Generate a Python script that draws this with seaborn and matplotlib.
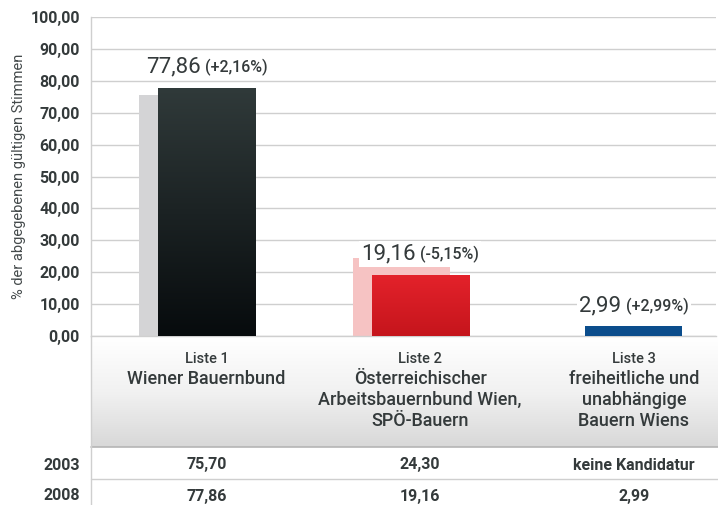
import numpy as np
import pandas as pd
import matplotlib
matplotlib.use('Agg')
import matplotlib.pyplot as plt
import matplotlib.transforms as mtransforms
from matplotlib.colors import LinearSegmentedColormap
from matplotlib.offsetbox import TextArea, HPacker, AnnotationBbox
import seaborn as sns

# Daten
listen = ['Liste 1', 'Liste 2', 'Liste 3']
parteien = ['Wiener Bauernbund',
            'Österreichischer\nArbeitsbauernbund Wien,\nSPÖ-Bauern',
            'freiheitliche und\nunabhängige\nBauern Wiens']
werte_2003 = [75.70, 24.30, np.nan]
werte_2008 = [77.86, 19.16, 2.99]
veraenderung = ['(+2,16%)', '(-5,15%)', '(+2,99%)']
jahre = ['2003', '2008']
tabelle_2003 = ['75,70', '24,30', 'keine Kandidatur']
tabelle_2008 = ['77,86', '19,16', '2,99']
yticks = list(range(0, 101, 10))

farben_2003 = ['#d4d4d6', '#f6c3c3', '#ffffff']
farben_2008 = ['#1c2325', '#d91a22', '#0b4d8c']
verlauf_2008 = [('#303a3a', '#070b0d'), ('#e4222b', '#c5151c'), None]

sns.set_style('white')
plt.rcParams['font.family'] = ['Roboto', 'DejaVu Sans']
txt = '#343a3b'
grid = '#cfcfcf'

W, H = 718, 505
fig = plt.figure(figsize=(W / 100, H / 100), dpi=100)
ax = fig.add_axes([91 / W, 1 - 336 / H, 625 / W, 319 / H])

df = pd.DataFrame({'liste': listen, 'w2003': werte_2003, 'w2008': werte_2008})
breite = 0.454
versatz = 0.087

sns.barplot(data=df, x='liste', y='w2003', hue='liste', order=listen, hue_order=listen,
            palette=dict(zip(listen, farben_2003)), width=breite, saturation=1,
            legend=False, ax=ax, zorder=2)
n_alt = len(ax.patches)
for p in ax.patches:
    p.set_x(p.get_x() - versatz)
    p.set_linewidth(0)

sns.barplot(data=df, x='liste', y='w2008', hue='liste', order=listen, hue_order=listen,
            palette=dict(zip(listen, farben_2008)), width=breite, saturation=1,
            legend=False, ax=ax, zorder=3)
neu = ax.patches[n_alt:]
for p in neu:
    p.set_linewidth(0)

# Farbverlauf in den Balken
for p, v in zip(neu, verlauf_2008):
    if v is None:
        continue
    cmap = LinearSegmentedColormap.from_list('v', [v[1], v[0]])
    x0, y0, w, h = p.get_x(), p.get_y(), p.get_width(), p.get_height()
    im = ax.imshow(np.linspace(0, 1, 256).reshape(-1, 1), cmap=cmap, origin='lower',
                   extent=[x0, x0 + w, y0, y0 + h], aspect='auto', zorder=3.5)
    im.set_clip_path(p)

ax.set_xlim(-0.540, 2.384)
ax.set_ylim(0, 100)
ax.set_yticks(yticks)
ax.set_yticklabels([f'{t:.2f}'.replace('.', ',') for t in yticks],
                   fontsize=11.5, fontweight='bold', color=txt)
ax.tick_params(axis='y', length=0, pad=8)
ax.tick_params(axis='x', length=0, labelbottom=False)
ax.set_xlabel('')
ax.set_ylabel('% der abgegebenen gültigen Stimmen', fontsize=10.5, color='#444a4b')
ax.yaxis.set_label_coords(-0.104, 0.5)
ax.yaxis.grid(True, color=grid, lw=1)
ax.set_axisbelow(True)
for s in ['top', 'right']:
    ax.spines[s].set_visible(False)
for s in ['left', 'bottom']:
    ax.spines[s].set_color(grid)
    ax.spines[s].set_linewidth(1)

# Wertebeschriftung
for i, (v, d) in enumerate(zip(werte_2008, veraenderung)):
    gross = TextArea(f'{v:.2f}'.replace('.', ','), textprops=dict(size=16, color=txt))
    klein = TextArea(d, textprops=dict(size=11.5, color=txt, weight='medium'))
    box = HPacker(children=[gross, klein], align='baseline', pad=0, sep=3)
    ab = AnnotationBbox(box, (i, v), xybox=(0, 15), xycoords='data',
                        boxcoords='offset points', frameon=True, pad=0.15,
                        bboxprops=dict(fc='white', ec='none'), zorder=5)
    ax.add_artist(ab)

# Tabelle unter dem Diagramm
ov = fig.add_axes([0, 0, 1, 1], zorder=-1)
band = LinearSegmentedColormap.from_list('b', ['#ffffff', '#f1f1f1', '#d8d8d8'])
ov.imshow(np.linspace(0, 1, 256).reshape(-1, 1), cmap=band, extent=[91, W, 447, 338],
          aspect='auto')
ov.set_xlim(0, W)
ov.set_ylim(H, 0)
ov.axis('off')
ov.plot([91, W], [447, 447], color='#b5b5b5', lw=1.2)
ov.plot([91, W], [479, 479], color=grid, lw=1)
ov.plot([91, 91], [336, H], color=grid, lw=1)

mix = mtransforms.blended_transform_factory(ax.transData, ov.transData)
for i, (l, name) in enumerate(zip(listen, parteien)):
    fig.text(i, 359, l, transform=mix, ha='center', va='center', fontsize=10.5,
             color=txt, fontweight='medium')
    for j, zeile in enumerate(name.split('\n')):
        fig.text(i, 379 + 21 * j, zeile, transform=mix, ha='center', va='center',
                 fontsize=13, color=txt, fontweight='medium')

for y, jahr, werte in zip([465, 496], jahre, [tabelle_2003, tabelle_2008]):
    fig.text(80, y, jahr, transform=ov.transData, ha='right', va='center',
             fontsize=11.5, fontweight='bold', color=txt)
    for i, w in enumerate(werte):
        fig.text(i, y, w, transform=mix, ha='center', va='center',
                 fontsize=11.5, fontweight='bold', color=txt)

fig.savefig('out.png', dpi=100)
